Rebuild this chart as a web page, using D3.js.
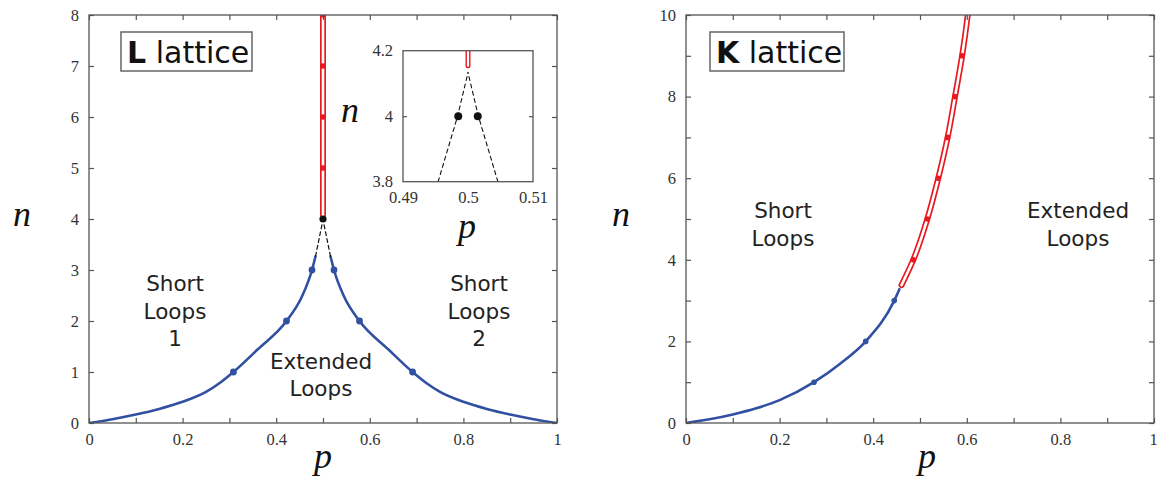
<!DOCTYPE html>
<html>
<head>
<meta charset="utf-8">
<script src="https://cdn.jsdelivr.net/npm/d3@7"></script>
<style>
  body { margin: 0; background: #fff; }
  svg { display: block; }
</style>
</head>
<body>
<script>
const W = 1157;
const H = 485;
const BLUE = "#3150a2";
const RED = "#e8191f";
const FRAME = "#555";
const SERIF = "Liberation Serif, serif";

// L lattice, blue phase boundary (two branches)
const lLeftP = [0, 0.05, 0.1, 0.15, 0.2, 0.25, 0.28, 0.3086, 0.36, 0.422, 0.455, 0.4765, 0.484];
const lLeftN = [0, 0.075, 0.165, 0.275, 0.415, 0.61, 0.79, 1, 1.44, 2, 2.48, 3, 3.27];
const lRightP = [1, 0.95, 0.9, 0.85, 0.8, 0.75, 0.72, 0.6914, 0.64, 0.578, 0.545, 0.5235, 0.516];
const lRightN = [0, 0.075, 0.165, 0.275, 0.415, 0.61, 0.79, 1, 1.44, 2, 2.48, 3, 3.27];
const lDotP = [0.3086, 0.422, 0.4765, 0.6914, 0.578, 0.5235];
const lDotN = [1, 2, 3, 1, 2, 3];
const lDashLeftP = [0.484, 0.4985];
const lDashLeftN = [3.27, 3.92];
const lDashRightP = [0.516, 0.5015];
const lDashRightN = [3.27, 3.92];
const lRedP = [0.5, 0.5];
const lRedN = [4.08, 8.3];
const lRedDotN = [5, 6, 7, 8];
const lCritP = [0.5];
const lCritN = [4];

// inset (zoom near p = 0.5, n = 4)
const inRedP = [0.5, 0.5];
const inRedN = [4.154, 4.3];
const inDashLeftP = [0.4954, 0.4984, 0.5];
const inDashLeftN = [3.8, 4.0, 4.133];
const inDashRightP = [0.5046, 0.5016, 0.5];
const inDashRightN = [3.8, 4.0, 4.133];
const inDotP = [0.4985, 0.5015];
const inDotN = [4, 4];

// K lattice
const kBlueP = [0, 0.05, 0.1, 0.15, 0.2, 0.2735, 0.33, 0.384, 0.445, 0.456];
const kBlueN = [0, 0.09, 0.21, 0.36, 0.56, 1, 1.46, 2, 3, 3.28];
const kBlueDotP = [0.2735, 0.384, 0.445];
const kBlueDotN = [1, 2, 3];
const kRedP = [0.4605, 0.4857, 0.5156, 0.539, 0.559, 0.5748, 0.59, 0.602, 0.606];
const kRedN = [3.38, 4, 5, 6, 7, 8, 9, 10, 10.4];
const kRedDotP = [0.4857, 0.5156, 0.539, 0.559, 0.5748, 0.59];
const kRedDotN = [4, 5, 6, 7, 8, 9];

const pTicks = [0, 0.1, 0.2, 0.3, 0.4, 0.5, 0.6, 0.7, 0.8, 0.9, 1];
const pTickLabels = ["0", "", "0.2", "", "0.4", "", "0.6", "", "0.8", "", "1"];
const lnTicks = [0, 1, 2, 3, 4, 5, 6, 7, 8];
const knTicks = [0, 1, 2, 3, 4, 5, 6, 7, 8, 9, 10];
const knTickLabels = ["0", "", "2", "", "4", "", "6", "", "8", "", "10"];
const inPTicks = [0.49, 0.5, 0.51];
const inPLabels = ["0.49", "0.5", "0.51"];
const inNTicks = [3.8, 4, 4.2];
const inNLabels = ["3.8", "4", "4.2"];

const zip = (ps, ns) => ps.map((p, i) => [p, ns[i]]);

const svg = d3.select("body").append("svg").attr("width", W).attr("height", H);

const makePanel = (id, x0, x1, y0, y1, pDom, nDom) => {
  const x = d3.scaleLinear().domain(pDom).range([x0, x1]);
  const y = d3.scaleLinear().domain(nDom).range([y1, y0]);
  svg.append("clipPath").attr("id", id)
    .append("rect").attr("x", x0).attr("y", y0).attr("width", x1 - x0).attr("height", y1 - y0);
  const g = svg.append("g");
  const plot = g.append("g").attr("clip-path", `url(#${id})`);
  return { x, y, g, plot, x0, x1, y0, y1 };
};

const styleAxis = (a) => {
  a.select(".domain").remove();
  a.selectAll(".tick line").attr("stroke", FRAME).attr("stroke-width", 1.2);
  a.selectAll(".tick text")
    .style("font-family", SERIF).style("font-size", "16.5px").attr("fill", "#333");
};

const drawAxes = (P, xt, xl, yt, yl, tick, pad) => {
  const fmt = (labels, ticks) => (d) => labels[ticks.indexOf(d)];
  const bottom = P.g.append("g").attr("transform", `translate(0,${P.y1})`)
    .call(d3.axisBottom(P.x).tickValues(xt).tickFormat(fmt(xl, xt)).tickSize(-tick).tickSizeOuter(0).tickPadding(pad))
    .call(styleAxis);
  P.g.append("g").attr("transform", `translate(0,${P.y0})`)
    .call(d3.axisTop(P.x).tickValues(xt).tickFormat("").tickSize(-tick).tickSizeOuter(0))
    .call(styleAxis);
  P.g.append("g").attr("transform", `translate(${P.x0},0)`)
    .call(d3.axisLeft(P.y).tickValues(yt).tickFormat(fmt(yl, yt)).tickSize(-tick).tickSizeOuter(0).tickPadding(pad))
    .call(styleAxis);
  P.g.append("g").attr("transform", `translate(${P.x1},0)`)
    .call(d3.axisRight(P.y).tickValues(yt).tickFormat("").tickSize(-tick).tickSizeOuter(0))
    .call(styleAxis);
  P.g.append("rect")
    .attr("x", P.x0).attr("y", P.y0).attr("width", P.x1 - P.x0).attr("height", P.y1 - P.y0)
    .attr("fill", "none").attr("stroke", FRAME).attr("stroke-width", 1.3);
  return bottom;
};

const curve = (P, pts, color, width, dash, kind) => {
  const line = d3.line().x((d) => P.x(d[0])).y((d) => P.y(d[1]))
    .curve(kind || d3.curveMonotoneX);
  P.plot.append("path").datum(pts).attr("d", line)
    .attr("fill", "none").attr("stroke", color).attr("stroke-width", width)
    .attr("stroke-linecap", "round")
    .attr("stroke-dasharray", dash || null);
};

const capsule = (P, pts, outer, inner) => {
  curve(P, pts, RED, outer, null, d3.curveMonotoneY);
  curve(P, pts, "#fff", inner, null, d3.curveMonotoneY);
};

const dots = (P, pts, color, r) => {
  P.plot.append("g").selectAll("circle").data(pts).join("circle")
    .attr("cx", (d) => P.x(d[0])).attr("cy", (d) => P.y(d[1])).attr("r", r).attr("fill", color);
};

const textBlock = (x, y, lines, step) => {
  const t = svg.append("text").attr("text-anchor", "middle")
    .attr("font-family", "DejaVu Sans, sans-serif").attr("font-size", 21.5).attr("fill", "#222");
  lines.forEach((s, i) => t.append("tspan").attr("x", x).attr("y", y + i * step).text(s));
};

const labelBox = (x, y, w, h, bold, rest) => {
  svg.append("rect").attr("x", x).attr("y", y).attr("width", w).attr("height", h)
    .attr("fill", "#fff").attr("stroke", "#666").attr("stroke-width", 1.5);
  const t = svg.append("text").attr("x", x + 6).attr("y", y + 31)
    .attr("font-family", "DejaVu Sans, sans-serif").attr("font-size", 30).attr("fill", "#111");
  t.append("tspan").attr("font-weight", "bold").text(bold);
  t.append("tspan").text(" " + rest);
};

const axisLabel = (x, y, s) => {
  svg.append("text").attr("x", x).attr("y", y).attr("text-anchor", "middle")
    .attr("font-family", SERIF).attr("font-style", "italic").attr("font-size", 36)
    .attr("fill", "#111").text(s);
};

// ---- L lattice panel ----
const L = makePanel("clipL", 89, 557, 15, 423, [0, 1], [0, 8]);
drawAxes(L, pTicks, pTickLabels, lnTicks, lnTicks.map(String), 5, 10);

curve(L, zip(lLeftP, lLeftN), BLUE, 2.6);
curve(L, zip(lRightP, lRightN).reverse(), BLUE, 2.6);
curve(L, zip(lDashLeftP, lDashLeftN), "#111", 1.2, "4,3", d3.curveLinear);
curve(L, zip(lDashRightP, lDashRightN), "#111", 1.2, "4,3", d3.curveLinear);
dots(L, zip(lDotP, lDotN), BLUE, 3.4);
capsule(L, zip(lRedP, lRedN), 6, 2.6);
dots(L, lRedDotN.map((n) => [0.5, n]), RED, 2.8);
dots(L, zip(lCritP, lCritN), "#111", 3.6);

textBlock(175, 291, ["Short", "Loops", "1"], 27.5);
textBlock(479, 291, ["Short", "Loops", "2"], 27.5);
textBlock(321, 369, ["Extended", "Loops"], 26.5);
labelBox(121, 32, 131, 39, "L", "lattice");

axisLabel(22, 226, "n");
axisLabel(323, 468, "p");

// ---- inset ----
const I = makePanel("clipI", 403, 533, 50.7, 181.7, [0.49, 0.51], [3.8, 4.2]);
I.g.insert("rect", ":first-child")
  .attr("x", I.x0).attr("y", I.y0).attr("width", I.x1 - I.x0).attr("height", I.y1 - I.y0).attr("fill", "#fff");
drawAxes(I, inPTicks, inPLabels, inNTicks, inNLabels, 4, 10);
I.g.selectAll(".tick line").filter((d) => d !== 4).remove();
curve(I, zip(inDashLeftP, inDashLeftN), "#111", 1.1, "4,3.5", d3.curveLinear);
curve(I, zip(inDashRightP, inDashRightN), "#111", 1.1, "4,3.5", d3.curveLinear);
capsule(I, zip(inRedP, inRedN), 5, 2.2);
dots(I, zip(inDotP, inDotN), "#111", 4);
axisLabel(350, 122, "n");
axisLabel(467, 238, "p");

// ---- K lattice panel ----
const K = makePanel("clipK", 686, 1154, 15, 423, [0, 1], [0, 10]);
const kBottom = drawAxes(K, pTicks, pTickLabels, knTicks, knTickLabels, 5, 10);
// last label sits at the page edge: keep it inside
kBottom.selectAll(".tick text").filter((d) => d === 1).attr("text-anchor", "end").attr("dx", "0.2em");

curve(K, zip(kBlueP, kBlueN), BLUE, 2.6);
dots(K, zip(kBlueDotP, kBlueDotN), BLUE, 2.8);
capsule(K, zip(kRedP, kRedN), 6, 2.6);
dots(K, zip(kRedDotP, kRedDotN), RED, 2.8);

textBlock(783, 218, ["Short", "Loops"], 27.5);
textBlock(1078, 218, ["Extended", "Loops"], 27.5);
labelBox(710, 32, 134, 39, "K", "lattice");

axisLabel(621, 226, "n");
axisLabel(927, 468, "p");
</script>
</body>
</html>
